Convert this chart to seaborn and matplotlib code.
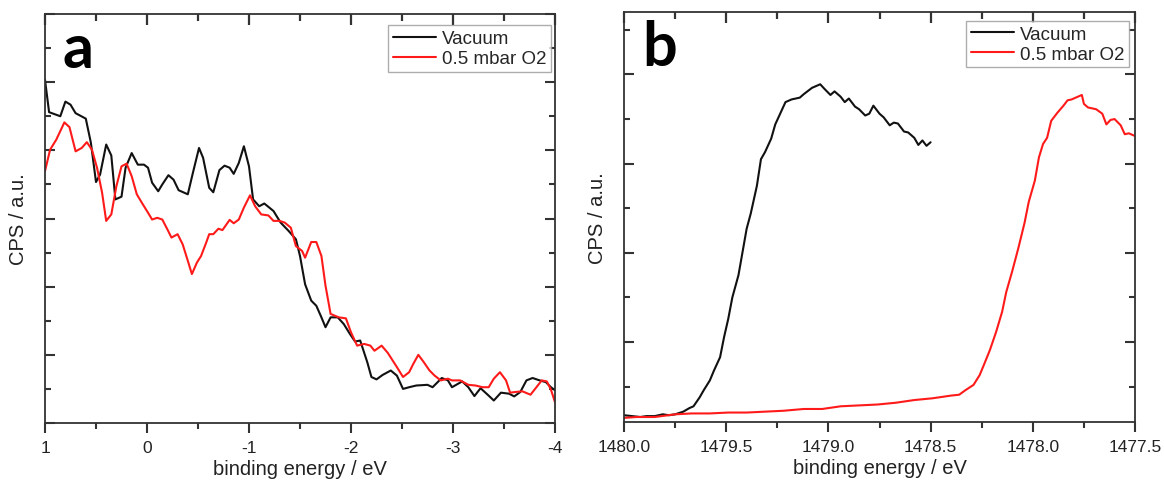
import numpy as np
import pandas as pd
import matplotlib
matplotlib.use("Agg")
import matplotlib.pyplot as plt
import matplotlib.lines as mlines
from matplotlib.ticker import MultipleLocator, FuncFormatter
import seaborn as sns

# ---------------- data ----------------
a_vac_x = [1.0, 0.96, 0.85, 0.80, 0.75, 0.70, 0.60, 0.55, 0.50, 0.46, 0.40, 0.35, 0.31, 0.25,
           0.21, 0.15, 0.09, 0.03, -0.01, -0.05, -0.11, -0.15, -0.21, -0.26, -0.31, -0.40,
           -0.45, -0.51, -0.55, -0.61, -0.65, -0.71, -0.76, -0.81, -0.85, -0.90, -0.95, -1.0,
           -1.04, -1.10, -1.15, -1.24, -1.31, -1.39, -1.46, -1.50, -1.55, -1.61, -1.66, -1.71,
           -1.75, -1.80, -1.87, -1.93, -1.99, -2.04, -2.09, -2.16, -2.20, -2.25, -2.31, -2.39,
           -2.45, -2.51, -2.57, -2.64, -2.75, -2.80, -2.89, -2.95, -2.99, -3.09, -3.15, -3.21,
           -3.27, -3.34, -3.40, -3.47, -3.55, -3.60, -3.66, -3.72, -3.78, -3.85, -3.91, -3.96,
           -4.0]
a_vac_y = [10.07, 9.12, 9.0, 9.43, 9.34, 9.09, 8.93, 8.22, 7.07, 7.29, 8.17, 7.85, 6.56, 6.64,
           7.49, 7.92, 7.58, 7.58, 7.49, 7.05, 6.80, 7.0, 7.27, 7.14, 6.83, 6.71,
           7.34, 8.07, 7.78, 6.90, 6.77, 7.42, 7.55, 7.49, 7.31, 7.63, 8.12, 7.53,
           6.56, 6.36, 6.44, 6.22, 5.88, 5.63, 5.39, 4.90, 4.07, 3.59, 3.44, 3.10,
           2.81, 3.10, 3.10, 2.90, 2.61, 2.39, 2.42, 1.78, 1.35, 1.28, 1.41, 1.54,
           1.39, 1.0, 1.05, 1.10, 1.12, 1.05, 1.32, 1.25, 1.05, 1.22, 1.05, 0.79,
           1.02, 0.83, 0.66, 0.89, 0.86, 0.78, 0.91, 1.25, 1.32, 1.25, 1.20, 1.05,
           0.96]
a_o2_x = [1.0, 0.95, 0.89, 0.81, 0.76, 0.70, 0.64, 0.59, 0.54, 0.49, 0.44, 0.40, 0.35, 0.30,
          0.25, 0.20, 0.15, 0.10, 0.05, -0.01, -0.05, -0.10, -0.15, -0.20, -0.24, -0.30,
          -0.35, -0.40, -0.44, -0.49, -0.53, -0.58, -0.61, -0.65, -0.70, -0.74, -0.81, -0.85,
          -0.90, -0.95, -1.01, -1.06, -1.12, -1.19, -1.24, -1.30, -1.35, -1.41, -1.46, -1.52,
          -1.55, -1.61, -1.66, -1.71, -1.75, -1.80, -1.88, -1.95, -2.00, -2.06, -2.13, -2.19,
          -2.23, -2.30, -2.36, -2.45, -2.51, -2.57, -2.61, -2.66, -2.71, -2.77, -2.82, -2.88,
          -2.95, -2.99, -3.07, -3.15, -3.22, -3.29, -3.35, -3.40, -3.46, -3.52, -3.56, -3.61,
          -3.68, -3.76, -3.81, -3.87, -3.92, -3.96, -4.0]
a_o2_y = [7.39, 8.02, 8.31, 8.82, 8.68, 7.97, 8.07, 8.24, 8.02, 7.49, 6.75, 5.93, 6.12, 6.95,
          7.53, 7.61, 7.24, 6.71, 6.46, 6.17, 5.97, 6.02, 5.97, 5.68, 5.44, 5.54,
          5.24, 4.76, 4.37, 4.71, 4.90, 5.29, 5.54, 5.54, 5.70, 5.66, 5.96, 5.86,
          5.97, 6.32, 6.68, 6.36, 6.12, 6.09, 5.93, 5.93, 5.88, 5.73, 5.19, 5.05,
          4.85, 5.31, 5.31, 4.90, 4.03, 3.20, 3.10, 3.07, 2.66, 2.27, 2.32, 2.27,
          2.12, 2.27, 2.06, 1.64, 1.35, 1.49, 1.73, 2.0, 1.80, 1.54, 1.39, 1.25,
          1.30, 1.25, 1.25, 1.12, 1.10, 1.05, 1.05, 1.30, 1.49, 1.25, 0.89, 0.91,
          0.93, 0.83, 1.02, 1.25, 1.22, 0.98, 0.61]

b_vac_x = [1480.0, 1479.96, 1479.92, 1479.89, 1479.85, 1479.81, 1479.78, 1479.75, 1479.71,
           1479.68, 1479.66, 1479.63, 1479.61, 1479.58, 1479.56, 1479.53, 1479.51, 1479.49,
           1479.47, 1479.44, 1479.42, 1479.40, 1479.38, 1479.35, 1479.33, 1479.31, 1479.28,
           1479.26, 1479.24, 1479.21, 1479.18, 1479.14, 1479.12, 1479.08, 1479.04, 1479.02,
           1478.99, 1478.97, 1478.94, 1478.92, 1478.90, 1478.87, 1478.85, 1478.82, 1478.80,
           1478.78, 1478.75, 1478.73, 1478.70, 1478.68, 1478.66, 1478.63, 1478.61, 1478.58,
           1478.56, 1478.54, 1478.52, 1478.50]
b_vac_y = [0.18, 0.17, 0.16, 0.17, 0.17, 0.19, 0.18, 0.19, 0.22,
           0.26, 0.28, 0.38, 0.46, 0.57, 0.68, 0.83, 1.06, 1.26,
           1.50, 1.75, 2.01, 2.27, 2.44, 2.75, 3.05, 3.13, 3.28,
           3.44, 3.54, 3.69, 3.72, 3.74, 3.78, 3.85, 3.89, 3.84,
           3.77, 3.81, 3.75, 3.69, 3.73, 3.64, 3.61, 3.54, 3.56,
           3.65, 3.56, 3.52, 3.43, 3.46, 3.45, 3.36, 3.35, 3.29,
           3.21, 3.26, 3.20, 3.24]
b_o2_x = [1480.0, 1479.94, 1479.85, 1479.75, 1479.67, 1479.58, 1479.49, 1479.40, 1479.31,
          1479.22, 1479.12, 1479.03, 1478.94, 1478.85, 1478.76, 1478.67, 1478.58, 1478.49,
          1478.43, 1478.40, 1478.36, 1478.33, 1478.29, 1478.26, 1478.24, 1478.21, 1478.18,
          1478.15, 1478.13, 1478.10, 1478.07, 1478.04, 1478.02, 1477.99, 1477.97, 1477.95,
          1477.93, 1477.91, 1477.88, 1477.85, 1477.83, 1477.81, 1477.79, 1477.76, 1477.75,
          1477.73, 1477.69, 1477.66, 1477.64, 1477.62, 1477.60, 1477.57, 1477.55, 1477.53,
          1477.50]
b_o2_y = [0.15, 0.16, 0.16, 0.19, 0.20, 0.20, 0.21, 0.21, 0.22,
          0.23, 0.25, 0.25, 0.28, 0.29, 0.30, 0.32, 0.35, 0.37,
          0.39, 0.40, 0.41, 0.46, 0.52, 0.63, 0.74, 0.91, 1.11,
          1.34, 1.56, 1.80, 2.06, 2.34, 2.57, 2.81, 3.07, 3.22,
          3.29, 3.48, 3.57, 3.65, 3.71, 3.72, 3.74, 3.77, 3.67,
          3.63, 3.61, 3.56, 3.44, 3.49, 3.50, 3.43, 3.33, 3.34,
          3.31]

series_labels = ["Vacuum", "0.5 mbar O2"]
series_colors = {"Vacuum": "#111111", "0.5 mbar O2": "#ff1a1a"}
x_label = "binding energy / eV"
y_label = "CPS / a.u."

# ---------------- style ----------------
sns.set_style("white")
plt.rcParams["font.family"] = ["Liberation Sans", "DejaVu Sans"]
plt.rcParams["axes.linewidth"] = 1.3
plt.rcParams["axes.edgecolor"] = "#333333"

fig = plt.figure(figsize=(11.64, 4.81), dpi=100)
axA = fig.add_axes([45 / 1164, 1 - 424 / 481, 510 / 1164, 409 / 481])
axB = fig.add_axes([624 / 1164, 1 - 423 / 481, 511 / 1164, 410 / 481])

dfA = pd.concat([
    pd.DataFrame({"E": a_vac_x, "I": a_vac_y, "cond": series_labels[0]}),
    pd.DataFrame({"E": a_o2_x, "I": a_o2_y, "cond": series_labels[1]}),
], ignore_index=True)
dfB = pd.concat([
    pd.DataFrame({"E": b_vac_x, "I": b_vac_y, "cond": series_labels[0]}),
    pd.DataFrame({"E": b_o2_x, "I": b_o2_y, "cond": series_labels[1]}),
], ignore_index=True)

panels = [
    (axA, dfA, (1, -4), (0, 12), 1.0, 0.5, 2.0, 1.0, "a", (0.992, 0.972), "{:g}"),
    (axB, dfB, (1480.0, 1477.5), (0.104, 4.70), 0.5, 0.25, 1.0, 0.5, "b", (0.988, 0.978), "{:.1f}"),
]
for ax, df, xlim, ylim, xmaj, xmin_, ymaj, ymin_, lab, legpos, fmt in panels:
    sns.lineplot(data=df, x="E", y="I", hue="cond", hue_order=series_labels,
                 palette=series_colors, sort=False, estimator=None,
                 linewidth=1.5, ax=ax, legend=True)
    ax.set_xlim(*xlim)
    ax.set_ylim(*ylim)
    ax.xaxis.set_major_locator(MultipleLocator(xmaj))
    ax.xaxis.set_minor_locator(MultipleLocator(xmin_))
    ax.xaxis.set_major_formatter(FuncFormatter(lambda v, p, f=fmt: f.format(v)))
    ax.yaxis.set_major_locator(MultipleLocator(ymaj))
    ax.yaxis.set_minor_locator(MultipleLocator(ymin_))
    ax.tick_params(axis="x", which="both", bottom=True, top=True, direction="out",
                   labelsize=12.5, color="#333333", labelcolor="#222222", pad=5)
    ax.tick_params(axis="y", which="both", left=True, right=True, direction="in",
                   labelleft=False, color="#333333")
    ax.tick_params(which="major", length=7, width=1.5)
    ax.tick_params(which="minor", length=4.5, width=1.5)
    ax.set_xlabel(x_label, fontsize=14.5, color="#222222", labelpad=3)
    ax.set_ylabel(y_label, fontsize=14.5, color="#222222", labelpad=12)
    leg = ax.legend(loc="upper right", bbox_to_anchor=legpos, fontsize=13.5,
                    frameon=True, fancybox=False, handlelength=2.3, handletextpad=0.3,
                    borderpad=0.25, labelspacing=0.15, borderaxespad=0.0)
    leg.get_frame().set_edgecolor("#999999")
    leg.get_frame().set_linewidth(1.0)
    for line in leg.get_lines():
        line.set_linewidth(1.5)
    ax.text(0.035, 0.915, lab, transform=ax.transAxes, fontsize=44, fontweight="bold",
            family="Lato", color="black", va="center", ha="left")

# after a first draw, turn the top-axis ticks inward (bottom ones stay outward)
fig.canvas.draw()
for ax in (axA, axB):
    for t in ax.xaxis.get_major_ticks():
        t.tick2line.set_marker(mlines.TICKDOWN)
        t.tick2line.set_markersize(8)
        t.tick2line.set_markeredgewidth(1.6)
        t.tick2line.set_visible(True)
    for t in ax.xaxis.get_minor_ticks():
        t.tick2line.set_marker(mlines.TICKDOWN)
        t.tick2line.set_markersize(5)
        t.tick2line.set_markeredgewidth(1.6)
        t.tick2line.set_visible(True)

fig.savefig("out.png", dpi=100)
